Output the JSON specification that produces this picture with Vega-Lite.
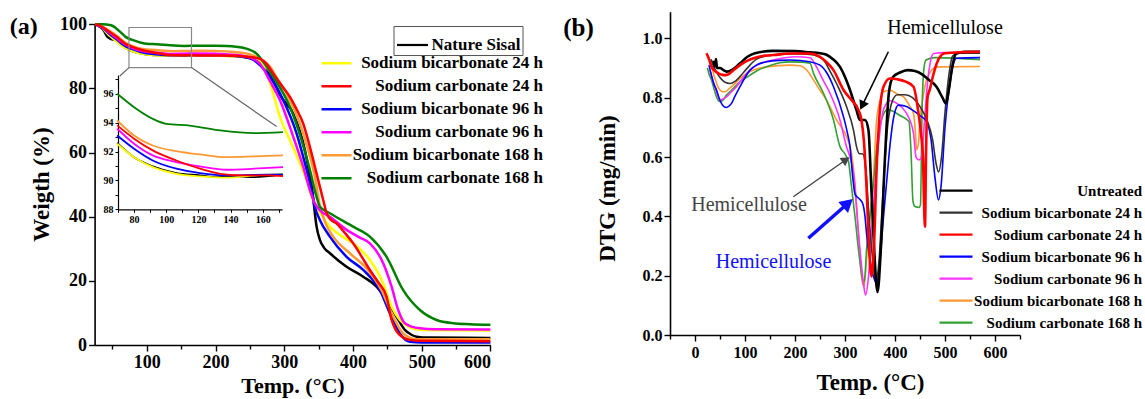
{
"$schema": "https://vega.github.io/schema/vega-lite/v6.json",
"width": 1145, "height": 399, "autosize": "none", "padding": 0, "background": "white",
"config": {
 "view": {"stroke": null},
 "font": "Liberation Serif",
 "axis": {"grid": false, "domainColor": "#000", "domainWidth": 1.6, "tickColor": "#000", "tickWidth": 1.4, "labelColor": "#000", "titleColor": "#000", "labelFont": "Liberation Serif", "titleFont": "Liberation Serif", "labelFontWeight": "bold", "titleFontWeight": "bold"},
 "legend": {"labelFont": "Liberation Serif", "labelFontWeight": "bold", "labelColor": "#000", "labelLimit": 400, "symbolType": "stroke"},
 "text": {"font": "Liberation Serif"}
},
"datasets": {
 "tga": [
  {"s":"NS","T":25,"W":100},{"s":"NS","T":32,"W":99.2},{"s":"NS","T":38,"W":97.8},{"s":"NS","T":42,"W":96.3},{"s":"NS","T":46,"W":95.6},{"s":"NS","T":55,"W":95},{"s":"NS","T":63,"W":93.6},{"s":"NS","T":69.5,"W":92.6},{"s":"NS","T":80,"W":91.6},{"s":"NS","T":91.6,"W":90.97},{"s":"NS","T":106.3,"W":90.5},{"s":"NS","T":121,"W":90.35},{"s":"NS","T":131.5,"W":90.23},{"s":"NS","T":144.2,"W":90.28},{"s":"NS","T":154.6,"W":90.23},{"s":"NS","T":172.6,"W":90.42},{"s":"NS","T":200,"W":90.3},{"s":"NS","T":230,"W":90},{"s":"NS","T":250,"W":89.4},{"s":"NS","T":265,"W":87.8},{"s":"NS","T":275,"W":85.2},{"s":"NS","T":284,"W":82.3},{"s":"NS","T":295,"W":77.5},{"s":"NS","T":313,"W":72.2},{"s":"NS","T":330,"W":60.8},{"s":"NS","T":337,"W":53},{"s":"NS","T":340,"W":49.5},{"s":"NS","T":343,"W":44},{"s":"NS","T":347,"W":37},{"s":"NS","T":352,"W":32.7},{"s":"NS","T":358,"W":30.3},{"s":"NS","T":366.4,"W":28.6},{"s":"NS","T":390.7,"W":24.4},{"s":"NS","T":414.9,"W":21.3},{"s":"NS","T":434.3,"W":18.2},{"s":"NS","T":448.9,"W":14},{"s":"NS","T":463.5,"W":8.8},{"s":"NS","T":475.5,"W":4.7},{"s":"NS","T":485,"W":3.2},{"s":"NS","T":492.6,"W":2.6},{"s":"NS","T":510,"W":2.3},{"s":"NS","T":600,"W":2.2},
  {"s":"B24","T":25,"W":100},{"s":"B24","T":32,"W":99.3},{"s":"B24","T":38,"W":98.2},{"s":"B24","T":45,"W":96.6},{"s":"B24","T":55,"W":94.8},{"s":"B24","T":63,"W":93.4},{"s":"B24","T":69.5,"W":92.54},{"s":"B24","T":80,"W":91.6},{"s":"B24","T":91.6,"W":90.92},{"s":"B24","T":106.3,"W":90.46},{"s":"B24","T":121,"W":90.28},{"s":"B24","T":137.8,"W":90.19},{"s":"B24","T":154.6,"W":90.35},{"s":"B24","T":172.6,"W":90.46},{"s":"B24","T":200,"W":90.3},{"s":"B24","T":230,"W":90},{"s":"B24","T":250,"W":89.8},{"s":"B24","T":264.5,"W":88.9},{"s":"B24","T":274.2,"W":84.7},{"s":"B24","T":283.8,"W":78.5},{"s":"B24","T":293.6,"W":71.2},{"s":"B24","T":308.2,"W":63.9},{"s":"B24","T":322.7,"W":56.7},{"s":"B24","T":332.5,"W":51.4},{"s":"B24","T":339.7,"W":46.2},{"s":"B24","T":352,"W":41.2},{"s":"B24","T":366.4,"W":36.9},{"s":"B24","T":383,"W":34},{"s":"B24","T":400.3,"W":31.7},{"s":"B24","T":424.6,"W":26.5},{"s":"B24","T":444,"W":19.2},{"s":"B24","T":456.2,"W":11.9},{"s":"B24","T":468.3,"W":7.8},{"s":"B24","T":482.8,"W":5.5},{"s":"B24","T":500,"W":4.7},{"s":"B24","T":600,"W":4.5},
  {"s":"B96","T":25,"W":100},{"s":"B96","T":32,"W":99.3},{"s":"B96","T":40,"W":98.1},{"s":"B96","T":48,"W":96.6},{"s":"B96","T":55,"W":95.5},{"s":"B96","T":63,"W":94},{"s":"B96","T":69.5,"W":93.11},{"s":"B96","T":80,"W":92.19},{"s":"B96","T":91.6,"W":91.38},{"s":"B96","T":106.3,"W":90.81},{"s":"B96","T":121,"W":90.51},{"s":"B96","T":137.8,"W":90.35},{"s":"B96","T":154.6,"W":90.39},{"s":"B96","T":172.6,"W":90.42},{"s":"B96","T":200,"W":90.4},{"s":"B96","T":230,"W":90.1},{"s":"B96","T":250,"W":89.5},{"s":"B96","T":265,"W":87.2},{"s":"B96","T":279,"W":83.7},{"s":"B96","T":298.4,"W":76.4},{"s":"B96","T":317.9,"W":66},{"s":"B96","T":330,"W":56.7},{"s":"B96","T":339.7,"W":48.3},{"s":"B96","T":344.5,"W":43.1},{"s":"B96","T":351.8,"W":39},{"s":"B96","T":366.4,"W":33.8},{"s":"B96","T":390.7,"W":27.5},{"s":"B96","T":414.9,"W":23.4},{"s":"B96","T":439.2,"W":17.1},{"s":"B96","T":453.7,"W":9.9},{"s":"B96","T":468.3,"W":3.6},{"s":"B96","T":482.8,"W":1},{"s":"B96","T":500,"W":0.8},{"s":"B96","T":600,"W":0.8},
  {"s":"B168","T":25,"W":100},{"s":"B168","T":32,"W":99.5},{"s":"B168","T":40,"W":98.7},{"s":"B168","T":48,"W":97.6},{"s":"B168","T":55,"W":96.6},{"s":"B168","T":63,"W":95.2},{"s":"B168","T":69.5,"W":94.15},{"s":"B168","T":80,"W":93.11},{"s":"B168","T":91.6,"W":92.42},{"s":"B168","T":106.3,"W":92.03},{"s":"B168","T":121,"W":91.8},{"s":"B168","T":137.8,"W":91.61},{"s":"B168","T":154.6,"W":91.66},{"s":"B168","T":172.6,"W":91.73},{"s":"B168","T":200,"W":91.7},{"s":"B168","T":230,"W":91.3},{"s":"B168","T":250,"W":90.6},{"s":"B168","T":265,"W":89.2},{"s":"B168","T":279,"W":86.8},{"s":"B168","T":290,"W":83},{"s":"B168","T":303.3,"W":78.5},{"s":"B168","T":322.7,"W":69.1},{"s":"B168","T":334.8,"W":60.8},{"s":"B168","T":344.5,"W":52.5},{"s":"B168","T":351.8,"W":43.5},{"s":"B168","T":360,"W":38},{"s":"B168","T":371.2,"W":33.8},{"s":"B168","T":395.5,"W":28.6},{"s":"B168","T":419.8,"W":23.9},{"s":"B168","T":441.6,"W":17.1},{"s":"B168","T":456.2,"W":9.9},{"s":"B168","T":473.1,"W":3.6},{"s":"B168","T":492.6,"W":1.8},{"s":"B168","T":600,"W":1.8},
  {"s":"C96","T":25,"W":100},{"s":"C96","T":32,"W":99.4},{"s":"C96","T":40,"W":98.3},{"s":"C96","T":48,"W":97},{"s":"C96","T":55,"W":95.9},{"s":"C96","T":63,"W":94.5},{"s":"C96","T":69.5,"W":93.58},{"s":"C96","T":80,"W":92.54},{"s":"C96","T":91.6,"W":91.73},{"s":"C96","T":106.3,"W":91.27},{"s":"C96","T":121,"W":90.97},{"s":"C96","T":137.8,"W":90.74},{"s":"C96","T":154.6,"W":90.81},{"s":"C96","T":172.6,"W":90.92},{"s":"C96","T":200,"W":90.8},{"s":"C96","T":230,"W":90.4},{"s":"C96","T":250,"W":89.6},{"s":"C96","T":265,"W":87.6},{"s":"C96","T":280,"W":82},{"s":"C96","T":293.6,"W":76.4},{"s":"C96","T":313,"W":65},{"s":"C96","T":327.5,"W":55.6},{"s":"C96","T":337.3,"W":48.3},{"s":"C96","T":345,"W":44},{"s":"C96","T":352,"W":42},{"s":"C96","T":366.4,"W":40},{"s":"C96","T":390.7,"W":35.9},{"s":"C96","T":410,"W":33.5},{"s":"C96","T":424.6,"W":31.7},{"s":"C96","T":444,"W":25.5},{"s":"C96","T":456.2,"W":18.2},{"s":"C96","T":465.8,"W":10.9},{"s":"C96","T":475.5,"W":6.8},{"s":"C96","T":497.4,"W":5.2},{"s":"C96","T":520,"W":4.9},{"s":"C96","T":600,"W":4.8},
  {"s":"C168","T":25,"W":100},{"s":"C168","T":35,"W":100},{"s":"C168","T":48,"W":99.7},{"s":"C168","T":55,"W":98.8},{"s":"C168","T":62,"W":97.5},{"s":"C168","T":69.5,"W":96},{"s":"C168","T":80,"W":95.07},{"s":"C168","T":91.5,"W":94.27},{"s":"C168","T":100,"W":93.92},{"s":"C168","T":114.7,"W":93.8},{"s":"C168","T":133.6,"W":93.46},{"s":"C168","T":154.6,"W":93.27},{"s":"C168","T":172.6,"W":93.34},{"s":"C168","T":200,"W":93.3},{"s":"C168","T":230,"W":93},{"s":"C168","T":245,"W":92.4},{"s":"C168","T":260,"W":90.8},{"s":"C168","T":272,"W":87.5},{"s":"C168","T":283.8,"W":83.7},{"s":"C168","T":308.2,"W":74.3},{"s":"C168","T":325.2,"W":63.9},{"s":"C168","T":337.3,"W":54.6},{"s":"C168","T":347,"W":46.2},{"s":"C168","T":351.8,"W":43.1},{"s":"C168","T":366.4,"W":41.1},{"s":"C168","T":400.3,"W":36.9},{"s":"C168","T":424.6,"W":33.8},{"s":"C168","T":448.9,"W":27.5},{"s":"C168","T":473.1,"W":17.1},{"s":"C168","T":497.4,"W":10.9},{"s":"C168","T":521.7,"W":7.8},{"s":"C168","T":545.9,"W":6.8},{"s":"C168","T":570.2,"W":6.5},{"s":"C168","T":600,"W":6.3},
  {"s":"C24","T":25,"W":100},{"s":"C24","T":32,"W":99.5},{"s":"C24","T":40,"W":98.5},{"s":"C24","T":48,"W":97.3},{"s":"C24","T":55,"W":96.3},{"s":"C24","T":63,"W":94.9},{"s":"C24","T":69.5,"W":93.81},{"s":"C24","T":80,"W":92.89},{"s":"C24","T":91.6,"W":92.08},{"s":"C24","T":106.3,"W":91.38},{"s":"C24","T":121,"W":90.81},{"s":"C24","T":133.6,"W":90.46},{"s":"C24","T":148.3,"W":90.35},{"s":"C24","T":163,"W":90.35},{"s":"C24","T":172.6,"W":90.3},{"s":"C24","T":200,"W":90.3},{"s":"C24","T":230,"W":90.2},{"s":"C24","T":250,"W":89.8},{"s":"C24","T":265,"W":89.2},{"s":"C24","T":275,"W":87.5},{"s":"C24","T":283.8,"W":84.7},{"s":"C24","T":296,"W":81},{"s":"C24","T":308.2,"W":77.4},{"s":"C24","T":318,"W":73.5},{"s":"C24","T":327.5,"W":69.1},{"s":"C24","T":337.3,"W":61.8},{"s":"C24","T":347,"W":53.5},{"s":"C24","T":356.7,"W":45.2},{"s":"C24","T":361.6,"W":41.1},{"s":"C24","T":368,"W":39},{"s":"C24","T":376.1,"W":37.9},{"s":"C24","T":388,"W":35},{"s":"C24","T":400.3,"W":31.7},{"s":"C24","T":412,"W":27.8},{"s":"C24","T":424.6,"W":23.4},{"s":"C24","T":437,"W":19.5},{"s":"C24","T":448.9,"W":15.1},{"s":"C24","T":456.2,"W":7.8},{"s":"C24","T":462,"W":4.8},{"s":"C24","T":468.3,"W":3.1},{"s":"C24","T":482.8,"W":1.6},{"s":"C24","T":500,"W":1.3},{"s":"C24","T":600,"W":1.2}
 ],
 "dtg": [
  {"s":"B168","T":33,"D":0.927},{"s":"B168","T":37,"D":0.88},{"s":"B168","T":40,"D":0.865},{"s":"B168","T":45,"D":0.84},{"s":"B168","T":50,"D":0.826},{"s":"B168","T":55,"D":0.82},{"s":"B168","T":60,"D":0.82},{"s":"B168","T":68,"D":0.83},{"s":"B168","T":77,"D":0.843},{"s":"B168","T":90,"D":0.865},{"s":"B168","T":103,"D":0.882},{"s":"B168","T":120,"D":0.895},{"s":"B168","T":143,"D":0.904},{"s":"B168","T":190,"D":0.91},{"s":"B168","T":210,"D":0.908},{"s":"B168","T":225,"D":0.89},{"s":"B168","T":237,"D":0.86},{"s":"B168","T":250,"D":0.825},{"s":"B168","T":263,"D":0.792},{"s":"B168","T":283,"D":0.725},{"s":"B168","T":303,"D":0.669},{"s":"B168","T":313,"D":0.612},{"s":"B168","T":320,"D":0.511},{"s":"B168","T":327,"D":0.343},{"s":"B168","T":333,"D":0.197},{"s":"B168","T":338,"D":0.163},{"s":"B168","T":343,"D":0.253},{"s":"B168","T":350,"D":0.399},{"s":"B168","T":357,"D":0.534},{"s":"B168","T":363,"D":0.72},{"s":"B168","T":370,"D":0.79},{"s":"B168","T":377,"D":0.82},{"s":"B168","T":390,"D":0.825},{"s":"B168","T":405,"D":0.812},{"s":"B168","T":417,"D":0.803},{"s":"B168","T":430,"D":0.77},{"s":"B168","T":437,"D":0.747},{"s":"B168","T":441,"D":0.68},{"s":"B168","T":443,"D":0.624},{"s":"B168","T":447,"D":0.65},{"s":"B168","T":450,"D":0.725},{"s":"B168","T":456,"D":0.8},{"s":"B168","T":463,"D":0.86},{"s":"B168","T":483,"D":0.904},{"s":"B168","T":570,"D":0.905},
  {"s":"C168","T":25,"D":0.9},{"s":"C168","T":28,"D":0.88},{"s":"C168","T":33,"D":0.86},{"s":"C168","T":38,"D":0.83},{"s":"C168","T":43,"D":0.803},{"s":"C168","T":50,"D":0.787},{"s":"C168","T":55,"D":0.79},{"s":"C168","T":63,"D":0.809},{"s":"C168","T":73,"D":0.825},{"s":"C168","T":83,"D":0.843},{"s":"C168","T":95,"D":0.86},{"s":"C168","T":110,"D":0.876},{"s":"C168","T":125,"D":0.892},{"s":"C168","T":143,"D":0.904},{"s":"C168","T":170,"D":0.918},{"s":"C168","T":190,"D":0.921},{"s":"C168","T":215,"D":0.92},{"s":"C168","T":230,"D":0.916},{"s":"C168","T":237,"D":0.882},{"s":"C168","T":257,"D":0.815},{"s":"C168","T":277,"D":0.725},{"s":"C168","T":290,"D":0.635},{"s":"C168","T":300,"D":0.61},{"s":"C168","T":307,"D":0.585},{"s":"C168","T":313,"D":0.5},{"s":"C168","T":320,"D":0.399},{"s":"C168","T":327,"D":0.287},{"s":"C168","T":333,"D":0.208},{"s":"C168","T":337,"D":0.175},{"s":"C168","T":340,"D":0.2},{"s":"C168","T":343,"D":0.287},{"s":"C168","T":350,"D":0.399},{"s":"C168","T":357,"D":0.511},{"s":"C168","T":363,"D":0.624},{"s":"C168","T":372,"D":0.72},{"s":"C168","T":385,"D":0.76},{"s":"C168","T":395,"D":0.755},{"s":"C168","T":410,"D":0.74},{"s":"C168","T":428,"D":0.72},{"s":"C168","T":432,"D":0.62},{"s":"C168","T":436,"D":0.45},{"s":"C168","T":440,"D":0.433},{"s":"C168","T":448,"D":0.43},{"s":"C168","T":451,"D":0.44},{"s":"C168","T":454,"D":0.75},{"s":"C168","T":458,"D":0.9},{"s":"C168","T":462,"D":0.927},{"s":"C168","T":480,"D":0.935},{"s":"C168","T":570,"D":0.928},
  {"s":"C96","T":30,"D":0.893},{"s":"C96","T":35,"D":0.86},{"s":"C96","T":40,"D":0.837},{"s":"C96","T":45,"D":0.81},{"s":"C96","T":50,"D":0.792},{"s":"C96","T":55,"D":0.795},{"s":"C96","T":63,"D":0.803},{"s":"C96","T":73,"D":0.82},{"s":"C96","T":83,"D":0.837},{"s":"C96","T":95,"D":0.865},{"s":"C96","T":110,"D":0.893},{"s":"C96","T":130,"D":0.915},{"s":"C96","T":157,"D":0.927},{"s":"C96","T":180,"D":0.935},{"s":"C96","T":203,"D":0.938},{"s":"C96","T":230,"D":0.935},{"s":"C96","T":243,"D":0.904},{"s":"C96","T":256,"D":0.86},{"s":"C96","T":270,"D":0.815},{"s":"C96","T":290,"D":0.725},{"s":"C96","T":303,"D":0.635},{"s":"C96","T":310,"D":0.6},{"s":"C96","T":317,"D":0.545},{"s":"C96","T":327,"D":0.343},{"s":"C96","T":337,"D":0.174},{"s":"C96","T":341,"D":0.135},{"s":"C96","T":347,"D":0.197},{"s":"C96","T":353,"D":0.343},{"s":"C96","T":360,"D":0.511},{"s":"C96","T":368,"D":0.66},{"s":"C96","T":378,"D":0.765},{"s":"C96","T":390,"D":0.79},{"s":"C96","T":400,"D":0.785},{"s":"C96","T":412,"D":0.77},{"s":"C96","T":423,"D":0.747},{"s":"C96","T":437,"D":0.68},{"s":"C96","T":442,"D":0.6},{"s":"C96","T":448,"D":0.59},{"s":"C96","T":453,"D":0.6},{"s":"C96","T":458,"D":0.7},{"s":"C96","T":465,"D":0.85},{"s":"C96","T":472,"D":0.93},{"s":"C96","T":477,"D":0.949},{"s":"C96","T":500,"D":0.952},{"s":"C96","T":570,"D":0.95},
  {"s":"B96","T":28,"D":0.91},{"s":"B96","T":33,"D":0.875},{"s":"B96","T":38,"D":0.845},{"s":"B96","T":43,"D":0.826},{"s":"B96","T":48,"D":0.8},{"s":"B96","T":53,"D":0.781},{"s":"B96","T":58,"D":0.77},{"s":"B96","T":63,"D":0.767},{"s":"B96","T":68,"D":0.772},{"s":"B96","T":73,"D":0.781},{"s":"B96","T":80,"D":0.805},{"s":"B96","T":90,"D":0.837},{"s":"B96","T":100,"D":0.868},{"s":"B96","T":110,"D":0.893},{"s":"B96","T":125,"D":0.912},{"s":"B96","T":143,"D":0.921},{"s":"B96","T":170,"D":0.926},{"s":"B96","T":190,"D":0.927},{"s":"B96","T":230,"D":0.921},{"s":"B96","T":250,"D":0.91},{"s":"B96","T":265,"D":0.88},{"s":"B96","T":277,"D":0.837},{"s":"B96","T":297,"D":0.736},{"s":"B96","T":305,"D":0.68},{"s":"B96","T":310,"D":0.635},{"s":"B96","T":315,"D":0.54},{"s":"B96","T":320,"D":0.475},{"s":"B96","T":328,"D":0.46},{"s":"B96","T":335,"D":0.445},{"s":"B96","T":340,"D":0.4},{"s":"B96","T":343,"D":0.343},{"s":"B96","T":350,"D":0.253},{"s":"B96","T":357,"D":0.197},{"s":"B96","T":363,"D":0.174},{"s":"B96","T":370,"D":0.253},{"s":"B96","T":377,"D":0.399},{"s":"B96","T":383,"D":0.511},{"s":"B96","T":390,"D":0.64},{"s":"B96","T":398,"D":0.74},{"s":"B96","T":407,"D":0.775},{"s":"B96","T":420,"D":0.772},{"s":"B96","T":435,"D":0.758},{"s":"B96","T":450,"D":0.74},{"s":"B96","T":463,"D":0.72},{"s":"B96","T":472,"D":0.66},{"s":"B96","T":480,"D":0.53},{"s":"B96","T":487,"D":0.455},{"s":"B96","T":492,"D":0.5},{"s":"B96","T":500,"D":0.7},{"s":"B96","T":510,"D":0.85},{"s":"B96","T":523,"D":0.933},{"s":"B96","T":570,"D":0.935},
  {"s":"B24","T":32,"D":0.93},{"s":"B24","T":36,"D":0.91},{"s":"B24","T":42,"D":0.89},{"s":"B24","T":50,"D":0.868},{"s":"B24","T":60,"D":0.852},{"s":"B24","T":70,"D":0.848},{"s":"B24","T":80,"D":0.855},{"s":"B24","T":97,"D":0.885},{"s":"B24","T":110,"D":0.91},{"s":"B24","T":123,"D":0.93},{"s":"B24","T":140,"D":0.94},{"s":"B24","T":170,"D":0.946},{"s":"B24","T":200,"D":0.948},{"s":"B24","T":230,"D":0.946},{"s":"B24","T":245,"D":0.94},{"s":"B24","T":257,"D":0.927},{"s":"B24","T":270,"D":0.89},{"s":"B24","T":283,"D":0.848},{"s":"B24","T":303,"D":0.77},{"s":"B24","T":317,"D":0.691},{"s":"B24","T":323,"D":0.635},{"s":"B24","T":328,"D":0.612},{"s":"B24","T":336,"D":0.61},{"s":"B24","T":342,"D":0.55},{"s":"B24","T":348,"D":0.4},{"s":"B24","T":355,"D":0.26},{"s":"B24","T":362,"D":0.18},{"s":"B24","T":368,"D":0.25},{"s":"B24","T":375,"D":0.45},{"s":"B24","T":385,"D":0.7},{"s":"B24","T":395,"D":0.79},{"s":"B24","T":405,"D":0.81},{"s":"B24","T":420,"D":0.81},{"s":"B24","T":435,"D":0.8},{"s":"B24","T":450,"D":0.77},{"s":"B24","T":465,"D":0.72},{"s":"B24","T":475,"D":0.66},{"s":"B24","T":482,"D":0.58},{"s":"B24","T":487,"D":0.55},{"s":"B24","T":493,"D":0.6},{"s":"B24","T":500,"D":0.75},{"s":"B24","T":508,"D":0.88},{"s":"B24","T":515,"D":0.94},{"s":"B24","T":525,"D":0.95},{"s":"B24","T":570,"D":0.95},
  {"s":"U","T":37,"D":0.925},{"s":"U","T":40,"D":0.905},{"s":"U","T":42,"D":0.93},{"s":"U","T":44,"D":0.9},{"s":"U","T":50,"D":0.9},{"s":"U","T":57,"D":0.893},{"s":"U","T":63,"D":0.888},{"s":"U","T":75,"D":0.895},{"s":"U","T":90,"D":0.916},{"s":"U","T":105,"D":0.938},{"s":"U","T":120,"D":0.95},{"s":"U","T":156,"D":0.958},{"s":"U","T":200,"D":0.957},{"s":"U","T":230,"D":0.953},{"s":"U","T":250,"D":0.95},{"s":"U","T":263,"D":0.945},{"s":"U","T":276,"D":0.93},{"s":"U","T":290,"D":0.904},{"s":"U","T":300,"D":0.87},{"s":"U","T":310,"D":0.826},{"s":"U","T":323,"D":0.758},{"s":"U","T":330,"D":0.725},{"s":"U","T":340,"D":0.725},{"s":"U","T":347,"D":0.69},{"s":"U","T":352,"D":0.52},{"s":"U","T":358,"D":0.3},{"s":"U","T":365,"D":0.145},{"s":"U","T":372,"D":0.3},{"s":"U","T":380,"D":0.6},{"s":"U","T":388,"D":0.82},{"s":"U","T":396,"D":0.87},{"s":"U","T":410,"D":0.885},{"s":"U","T":425,"D":0.893},{"s":"U","T":440,"D":0.89},{"s":"U","T":455,"D":0.878},{"s":"U","T":468,"D":0.86},{"s":"U","T":483,"D":0.837},{"s":"U","T":495,"D":0.8},{"s":"U","T":502,"D":0.78},{"s":"U","T":508,"D":0.83},{"s":"U","T":514,"D":0.9},{"s":"U","T":522,"D":0.948},{"s":"U","T":540,"D":0.955},{"s":"U","T":570,"D":0.955},
  {"s":"C24","T":23,"D":0.95},{"s":"C24","T":28,"D":0.93},{"s":"C24","T":33,"D":0.904},{"s":"C24","T":40,"D":0.89},{"s":"C24","T":47,"D":0.882},{"s":"C24","T":55,"D":0.877},{"s":"C24","T":62,"D":0.876},{"s":"C24","T":68,"D":0.88},{"s":"C24","T":75,"D":0.89},{"s":"C24","T":90,"D":0.91},{"s":"C24","T":105,"D":0.925},{"s":"C24","T":117,"D":0.933},{"s":"C24","T":140,"D":0.942},{"s":"C24","T":157,"D":0.944},{"s":"C24","T":190,"D":0.949},{"s":"C24","T":230,"D":0.949},{"s":"C24","T":250,"D":0.938},{"s":"C24","T":263,"D":0.92},{"s":"C24","T":277,"D":0.893},{"s":"C24","T":297,"D":0.826},{"s":"C24","T":313,"D":0.792},{"s":"C24","T":327,"D":0.758},{"s":"C24","T":333,"D":0.725},{"s":"C24","T":338,"D":0.65},{"s":"C24","T":343,"D":0.5},{"s":"C24","T":348,"D":0.3},{"s":"C24","T":353,"D":0.197},{"s":"C24","T":358,"D":0.3},{"s":"C24","T":363,"D":0.55},{"s":"C24","T":369,"D":0.74},{"s":"C24","T":377,"D":0.837},{"s":"C24","T":390,"D":0.865},{"s":"C24","T":405,"D":0.862},{"s":"C24","T":420,"D":0.855},{"s":"C24","T":437,"D":0.837},{"s":"C24","T":447,"D":0.747},{"s":"C24","T":452,"D":0.68},{"s":"C24","T":456,"D":0.6},{"s":"C24","T":458,"D":0.45},{"s":"C24","T":460,"D":0.365},{"s":"C24","T":462,"D":0.6},{"s":"C24","T":465,"D":0.8},{"s":"C24","T":470,"D":0.83},{"s":"C24","T":477,"D":0.88},{"s":"C24","T":490,"D":0.938},{"s":"C24","T":500,"D":0.95},{"s":"C24","T":570,"D":0.955}
 ],
 "boxA": [{"T":74,"T2":165,"W":86.5,"W2":99}],
 "linksA": [{"T":74,"W":86.5,"T2":60.7,"W2":83.9},{"T":165,"W":86.5,"T2":288.9,"W2":68.1}],
 "tagA": [{"T":-79,"W":99.3,"label":"(a)"}],
 "tagB": [{"T":-233,"D":1.034,"label":"(b)"}],
 "notesB": [
  {"k":"top","T":500,"D":1.034,"label":"Hemicellulose"},
  {"k":"gray","T":108,"D":0.438,"label":"Hemicellulose"},
  {"k":"blue","T":157,"D":0.247,"label":"Hemicellulose"}
 ],
 "arrowsB": [
  {"k":"top","T":386.7,"D":0.955,"T2":334.4,"D2":0.7735},
  {"k":"gray","T":196.7,"D":0.466,"T2":301.8,"D2":0.591},
  {"k":"blue","T":226.7,"D":0.326,"T2":305.9,"D2":0.444}
 ]
},
"layer": [
 {
  "layer": [
   {
    "data": {"name": "tga"},
    "transform": [{"filter": "datum.s === 'NS'"}],
    "mark": {"type": "line", "strokeWidth": 2.5, "interpolate": "monotone"},
    "encoding": {
     "x": {"field": "T", "type": "quantitative", "scale": {"domain": [24, 600], "range": [94.6, 490.4], "nice": false, "zero": false},
       "axis": {"orient": "bottom", "offset": -54, "values": [50,100,150,200,250,300,350,400,450,500,550,600], "labelExpr": "datum.value % 100 === 0 ? datum.label : ''", "tickSize": {"condition": {"test": "datum.value % 100 === 0", "value": 6}, "value": 4}, "labelFontSize": 18, "labelPadding": 2, "title": "Temp. (°C)", "titleFontSize": 22, "titleY": 30}},
     "y": {"field": "W", "type": "quantitative", "scale": {"domain": [0, 100], "range": [345, 24.3], "nice": false, "zero": false},
       "axis": {"orient": "left", "offset": -94.6, "values": [0,10,20,30,40,50,60,70,80,90,100], "labelExpr": "datum.value % 20 === 0 ? datum.label : ''", "tickSize": {"condition": {"test": "datum.value % 20 === 0", "value": 6}, "value": 4}, "labelFontSize": 18, "labelPadding": 2, "title": "Weigth (%)", "titleFontSize": 23, "titleX": -41, "titleY": 184}},
     "stroke": {"field": "s", "type": "nominal", "scale": {"domain": ["NS"], "range": ["#000000"]},
       "legend": {"title": null, "orient": "none", "legendX": 393.5, "legendY": 26, "padding": 2, "strokeColor": "#555", "symbolType": "stroke", "symbolSize": 961, "symbolStrokeWidth": 2.2, "labelOffset": 2, "labelFontSize": 17, "labelExpr": "'Nature Sisal'"}}
    }
   },
   {
    "data": {"name": "tga"},
    "transform": [{"filter": "datum.s !== 'NS'"}],
    "mark": {"type": "line", "strokeWidth": 2.5, "interpolate": "monotone"},
    "encoding": {
     "x": {"field": "T", "type": "quantitative"},
     "y": {"field": "W", "type": "quantitative"},
     "color": {"field": "s", "type": "nominal", "scale": {"domain": ["B24","C24","B96","C96","B168","C168"], "range": ["#ffff00","#ff0000","#0000ff","#ff00ff","#ff9933","#008000"]},
       "legend": {"title": null, "orient": "none", "legendX": 320, "legendY": 52, "symbolType": "stroke", "symbolSize": 900, "symbolStrokeWidth": 2.5, "labelAlign": "right", "labelOffset": 190, "labelFontSize": 17, "rowPadding": 0, "clipHeight": 22.7,
         "labelExpr": "(substring(datum.label,0,1) == 'B' ? 'Sodium bicarbonate ' : 'Sodium carbonate ') + substring(datum.label,1) + ' h'"}}
    }
   },
   {
    "data": {"name": "boxA"},
    "mark": {"type": "rect", "fill": "transparent", "stroke": "#888888", "strokeWidth": 1.2},
    "encoding": {"x": {"field": "T", "type": "quantitative"}, "x2": {"field": "T2"}, "y": {"field": "W", "type": "quantitative"}, "y2": {"field": "W2"}}
   },
   {
    "data": {"name": "linksA"},
    "mark": {"type": "rule", "stroke": "#666666", "strokeWidth": 1.2},
    "encoding": {"x": {"field": "T", "type": "quantitative"}, "x2": {"field": "T2"}, "y": {"field": "W", "type": "quantitative"}, "y2": {"field": "W2"}}
   },
   {
    "data": {"name": "tagA"},
    "mark": {"type": "text", "fontSize": 24, "fontWeight": "bold", "color": "#000"},
    "encoding": {"x": {"field": "T", "type": "quantitative"}, "y": {"field": "W", "type": "quantitative"}, "text": {"field": "label"}}
   }
  ]
 },
 {
  "data": {"name": "tga"},
  "transform": [{"filter": "datum.T >= 69 && datum.T <= 173"}],
  "mark": {"type": "line", "strokeWidth": 1.8, "interpolate": "monotone"},
  "encoding": {
   "x": {"field": "T", "type": "quantitative", "scale": {"domain": [70, 172], "range": [118, 282], "nice": false, "zero": false},
     "axis": {"orient": "bottom", "offset": -189.7, "values": [70,80,90,100,110,120,130,140,150,160,170], "labelExpr": "datum.value % 20 === 0 ? datum.label : ''", "tickSize": 3, "tickWidth": 1, "domainWidth": 1.2, "labelFontSize": 10, "labelPadding": 2, "title": null}},
   "y": {"field": "W", "type": "quantitative", "scale": {"domain": [88, 97.3], "range": [209.3, 75], "nice": false, "zero": false},
     "axis": {"orient": "left", "offset": -118, "values": [88,89,90,91,92,93,94,95,96,97], "labelExpr": "datum.value % 2 === 0 ? datum.label : ''", "tickSize": 3, "tickWidth": 1, "domainWidth": 1.2, "labelFontSize": 10, "labelPadding": 2, "title": null}},
   "color": {"field": "s", "type": "nominal", "scale": {"domain": ["NS","B24","C24","B96","C96","B168","C168"], "range": ["#000000","#ffff00","#ff0000","#0000ff","#ff00ff","#ff9933","#008000"]}, "legend": null}
  }
 },
 {
  "layer": [
   {
    "data": {"name": "dtg"},
    "transform": [{"filter": "datum.s !== 'U' && datum.s !== 'C24'"}],
    "mark": {"type": "line", "strokeWidth": 1.6, "interpolate": "monotone"},
    "encoding": {
     "x": {"field": "T", "type": "quantitative", "scale": {"domain": [-50, 650], "range": [670, 1020], "nice": false, "zero": false},
       "axis": {"orient": "bottom", "offset": -64, "values": [-50,0,50,100,150,200,250,300,350,400,450,500,550,600,650], "labelExpr": "datum.value % 100 === 0 ? datum.label : ''", "tickSize": {"condition": {"test": "datum.value % 100 === 0", "value": 6}, "value": 4}, "labelFontSize": 16, "labelPadding": 3, "title": "Temp. (°C)", "titleFontSize": 23, "titleX": 870, "titleY": 36}},
     "y": {"field": "D", "type": "quantitative", "scale": {"domain": [0, 1.09], "range": [335, 11.7], "nice": false, "zero": false},
       "axis": {"orient": "left", "offset": -670, "values": [0,0.1,0.2,0.3,0.4,0.5,0.6,0.7,0.8,0.9,1.0], "format": ".1f", "labelExpr": "round(datum.value*10) % 2 === 0 ? datum.label : ''", "tickSize": {"condition": {"test": "round(datum.value*10) % 2 === 0", "value": 6}, "value": 4}, "labelFontSize": 16, "labelPadding": 2, "title": "DTG (mg/min)", "titleFontSize": 23, "titleX": -51, "titleY": 188}},
     "color": {"field": "s", "type": "nominal", "scale": {"domain": ["U","B24","C24","B96","C96","B168","C168"], "range": ["#000000","#333333","#ff0000","#0000ff","#ff33ff","#ff9933","#33a033"]},
       "legend": {"title": null, "orient": "none", "legendX": 938, "legendY": 180, "symbolType": "stroke", "symbolSize": 1089, "symbolStrokeWidth": 2.2, "labelAlign": "right", "labelOffset": 168, "labelFontSize": 15, "rowPadding": 0, "clipHeight": 21.3,
         "labelExpr": "datum.label == 'U' ? 'Untreated' : (substring(datum.label,0,1) == 'B' ? 'Sodium bicarbonate ' : 'Sodium carbonate ') + substring(datum.label,1) + ' h'"}}
    }
   },
   {
    "data": {"name": "dtg"},
    "transform": [{"filter": "datum.s === 'U' || datum.s === 'C24'"}],
    "mark": {"type": "line", "strokeWidth": 2.6, "interpolate": "monotone"},
    "encoding": {
     "x": {"field": "T", "type": "quantitative"},
     "y": {"field": "D", "type": "quantitative"},
     "color": {"field": "s", "type": "nominal"}
    }
   },
   {
    "data": {"name": "notesB"}, "transform": [{"filter": "datum.k === 'top'"}],
    "mark": {"type": "text", "fontSize": 20, "color": "#000000"},
    "encoding": {"x": {"field": "T", "type": "quantitative"}, "y": {"field": "D", "type": "quantitative"}, "text": {"field": "label"}}
   },
   {
    "data": {"name": "notesB"}, "transform": [{"filter": "datum.k === 'gray'"}],
    "mark": {"type": "text", "fontSize": 20, "color": "#444444"},
    "encoding": {"x": {"field": "T", "type": "quantitative"}, "y": {"field": "D", "type": "quantitative"}, "text": {"field": "label"}}
   },
   {
    "data": {"name": "notesB"}, "transform": [{"filter": "datum.k === 'blue'"}],
    "mark": {"type": "text", "fontSize": 20, "color": "#1010ff"},
    "encoding": {"x": {"field": "T", "type": "quantitative"}, "y": {"field": "D", "type": "quantitative"}, "text": {"field": "label"}}
   },
   {
    "data": {"name": "arrowsB"}, "transform": [{"filter": "datum.k === 'top'"}],
    "mark": {"type": "rule", "color": "#000000", "strokeWidth": 1.6},
    "encoding": {"x": {"field": "T", "type": "quantitative"}, "y": {"field": "D", "type": "quantitative"}, "x2": {"field": "T2"}, "y2": {"field": "D2"}}
   },
   {
    "data": {"name": "arrowsB"}, "transform": [{"filter": "datum.k === 'gray'"}],
    "mark": {"type": "rule", "color": "#444444", "strokeWidth": 1.4},
    "encoding": {"x": {"field": "T", "type": "quantitative"}, "y": {"field": "D", "type": "quantitative"}, "x2": {"field": "T2"}, "y2": {"field": "D2"}}
   },
   {
    "data": {"name": "arrowsB"}, "transform": [{"filter": "datum.k === 'blue'"}],
    "mark": {"type": "rule", "color": "#1010ff", "strokeWidth": 3.5},
    "encoding": {"x": {"field": "T", "type": "quantitative"}, "y": {"field": "D", "type": "quantitative"}, "x2": {"field": "T2"}, "y2": {"field": "D2"}}
   },
   {
    "data": {"name": "arrowsB"}, "transform": [{"filter": "datum.k === 'top'"}],
    "mark": {"type": "point", "shape": "triangle-up", "filled": true, "size": 110, "angle": 205.9, "color": "#000000", "opacity": 1},
    "encoding": {"x": {"field": "T2", "type": "quantitative"}, "y": {"field": "D2", "type": "quantitative"}}
   },
   {
    "data": {"name": "arrowsB"}, "transform": [{"filter": "datum.k === 'gray'"}],
    "mark": {"type": "point", "shape": "triangle-up", "filled": true, "size": 100, "angle": 54.8, "color": "#444444", "opacity": 1},
    "encoding": {"x": {"field": "T2", "type": "quantitative"}, "y": {"field": "D2", "type": "quantitative"}}
   },
   {
    "data": {"name": "arrowsB"}, "transform": [{"filter": "datum.k === 'blue'"}],
    "mark": {"type": "point", "shape": "triangle-up", "filled": true, "size": 220, "angle": 48.6, "color": "#1010ff", "opacity": 1},
    "encoding": {"x": {"field": "T2", "type": "quantitative"}, "y": {"field": "D2", "type": "quantitative"}}
   },
   {
    "data": {"name": "tagB"},
    "mark": {"type": "text", "fontSize": 25, "fontWeight": "bold", "color": "#000"},
    "encoding": {"x": {"field": "T", "type": "quantitative"}, "y": {"field": "D", "type": "quantitative"}, "text": {"field": "label"}}
   }
  ]
 }
],
"resolve": {"scale": {"x": "independent", "y": "independent", "color": "independent"}, "axis": {"x": "independent", "y": "independent"}}
}
